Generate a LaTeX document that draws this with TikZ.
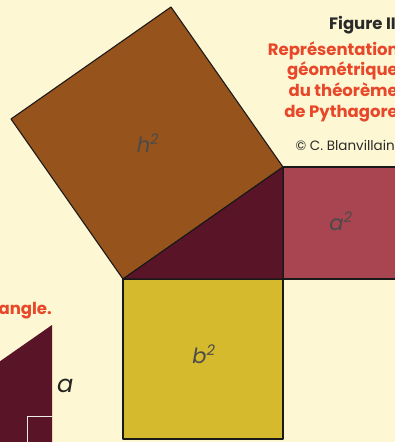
\documentclass[tikz,border=0pt]{standalone}
\usepackage{fontspec}
\setmainfont{Poppins}
\definecolor{bgc}{HTML}{FDF7D3}
\definecolor{brownh}{HTML}{97531C}
\definecolor{maroon}{HTML}{5A1428}
\definecolor{rosea}{HTML}{A84550}
\definecolor{mustb}{HTML}{D5BA2E}
\definecolor{redt}{HTML}{E8472A}
\definecolor{grayt}{HTML}{2A2A2A}
\definecolor{lab}{HTML}{4A4A4A}
\tikzset{
  sq/.style={draw=black!90, line width=1.1pt, line join=round},
  redline/.style={text=redt, font=\fontsize{16.5}{19}\selectfont\bfseries, anchor=base east, inner sep=0pt},
  sqlabel/.style={text=lab, font=\fontsize{21}{24}\selectfont\itshape, inner sep=0pt}
}
\begin{document}
\begin{tikzpicture}[x=1pt,y=-1pt]
\useasboundingbox (0,0) rectangle (395,442);
\clip (0,0) rectangle (395,442);
\fill[bgc] (0,0) rectangle (395,442);
% main triangle and squares
\coordinate (A) at (123,279);
\coordinate (B) at (283,279);
\coordinate (C) at (283,167);
\coordinate (Ct) at (171,7);
\coordinate (At) at (11,119);
\coordinate (Ar) at (402,279);
\coordinate (Bb) at (283,439);
\filldraw[sq, fill=brownh] (A) -- (C) -- (Ct) -- (At) -- cycle;
\filldraw[sq, fill=rosea] (C) rectangle (Ar);
\filldraw[sq, fill=mustb] (A) rectangle (Bb);
\filldraw[sq, fill=maroon] (A) -- (B) -- (C) -- cycle;
% labels
\node[sqlabel] (h2) at (148,143) {h\textsuperscript{2}};
\node[sqlabel] (a2) at (341,221) {a\textsuperscript{2}};
\node[sqlabel] (b2) at (204,354) {b\textsuperscript{2}};
% caption
\node[text=grayt, font=\fontsize{16.5}{19}\selectfont\bfseries, anchor=base east, inner sep=0pt] (fig) at (396,29) {Figure II};
\node[redline] (l1) at (399,55) {Représentation};
\node[redline] (l2) at (398,75) {géométrique};
\node[redline] (l3) at (398,96) {du théorème};
\node[redline] (l4) at (398,117) {de Pythagore};
\node[text=grayt, font=\fontsize{13.5}{16}\selectfont, anchor=base east, inner sep=0pt] (copy) at (395,150) {© C. Blanvillain};
% small triangle bottom left
\node[text=redt, font=\fontsize{16.5}{19}\selectfont\bfseries, anchor=base east, inner sep=0pt] (ang) at (52,314) {angle.};
\coordinate (T1) at (52,325);
\coordinate (T2) at (52,445);
\coordinate (T3) at (-120,445);
\fill[maroon] (T1) -- (T2) -- (T3) -- cycle;
\coordinate (R1) at (27,445);
\coordinate (R2) at (27,416);
\coordinate (R3) at (52,416);
\draw[white!85!gray, line width=0.9pt] (R1) -- (R2) -- (R3);
\node[text=black!85, font=\fontsize{24}{28}\selectfont\itshape, anchor=base west, inner sep=0pt] (la) at (57,392) {a};
\end{tikzpicture}
\end{document}
